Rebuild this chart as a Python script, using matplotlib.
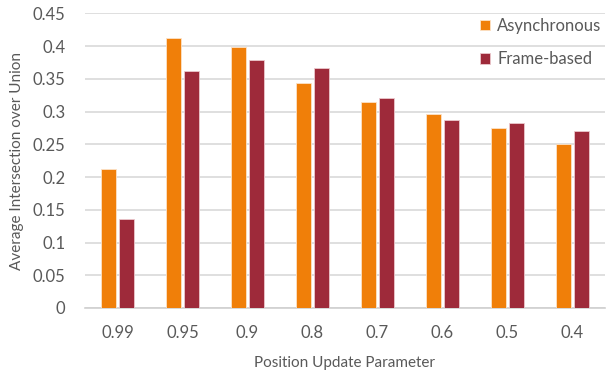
import matplotlib
matplotlib.use("Agg")
import matplotlib.pyplot as plt
import numpy as np

categories = ["0.99", "0.95", "0.9", "0.8", "0.7", "0.6", "0.5", "0.4"]
asynchronous = [0.212, 0.413, 0.398, 0.343, 0.315, 0.296, 0.275, 0.251]
frame_based = [0.136, 0.362, 0.379, 0.366, 0.320, 0.287, 0.283, 0.270]
yticks = [0, 0.05, 0.1, 0.15, 0.2, 0.25, 0.3, 0.35, 0.4, 0.45]
ytick_labels = ["0", "0.05", "0.1", "0.15", "0.2", "0.25", "0.3", "0.35", "0.4", "0.45"]

plt.rcParams['font.family'] = ['Lato', 'DejaVu Sans']
txt = '#595959'
fig = plt.figure(figsize=(6.08, 3.75), dpi=100)
ax = fig.add_axes([85/608, 1-308/375, 520/608, (308-13.3)/375])

x = np.arange(len(categories))
w = 0.235
off = 0.135
ax.bar(x - off, asynchronous, w, color='#F07F09', edgecolor='#FCE3C8', linewidth=0.6,
       label='Asynchronous', zorder=3)
ax.bar(x + off, frame_based, w, color='#9E2A3A', edgecolor='#EBC8CD', linewidth=0.6,
       label='Frame-based', zorder=3)

ax.set_xlim(-0.5, len(categories) - 0.5)
ax.set_ylim(0, 0.45)
ax.set_yticks(yticks)
ax.set_yticklabels(ytick_labels)
ax.set_xticks(x)
ax.set_xticklabels(categories)
ax.yaxis.grid(True, color='#D9D9D9', linewidth=1.2, zorder=0)
ax.set_axisbelow(True)
for s in ['top', 'right', 'left']:
    ax.spines[s].set_visible(False)
ax.spines['bottom'].set_color('#D0D0D0')
ax.spines['bottom'].set_linewidth(1.2)
ax.tick_params(axis='both', length=0, labelsize=12, colors=txt)
ax.tick_params(axis='x', pad=12)
ax.tick_params(axis='y', pad=14)
ax.set_xlabel('Position Update Parameter', fontsize=11, color=txt, labelpad=11)
ax.set_ylabel('Average Intersection over Union', fontsize=11, color=txt, labelpad=6)

leg = ax.legend(loc='upper right', bbox_to_anchor=(1.022, 1.035), frameon=False,
                fontsize=12, labelcolor=txt, handlelength=0.6, handleheight=0.6,
                handletextpad=0.45, labelspacing=1.05)

fig.savefig('out.png', dpi=100)
